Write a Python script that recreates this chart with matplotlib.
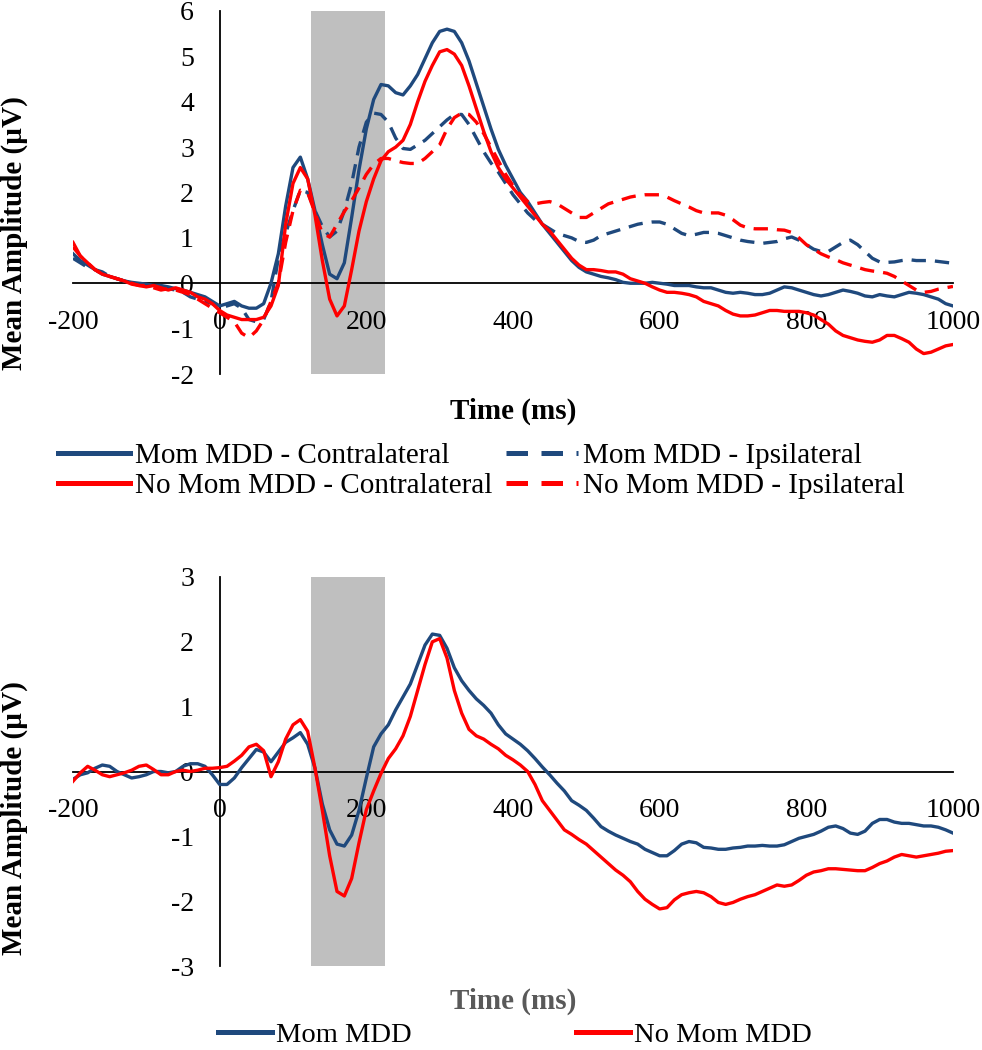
import numpy as np
import matplotlib
matplotlib.use("Agg")
import matplotlib.pyplot as plt

plt.rcParams['font.family'] = ['Liberation Serif', 'DejaVu Serif']
plt.rcParams['axes.unicode_minus'] = False

# ---------------- data ----------------
time_ms = np.arange(-200, 1001, 10)

top_mom_contra = [
    0.65, 0.5, 0.4, 0.3, 0.2, 0.15, 0.1, 0.05, 0.02, 0.0,
    -0.02, -0.05, -0.05, -0.08, -0.12, -0.15, -0.2, -0.25, -0.3, -0.4,
    -0.5, -0.45, -0.4, -0.5, -0.55, -0.55, -0.45, 0.0, 0.65, 1.7,
    2.55, 2.78, 2.3, 1.6, 0.85, 0.2, 0.1, 0.45, 1.45, 2.5,
    3.4, 4.05, 4.38, 4.35, 4.2, 4.15, 4.35, 4.6, 4.95, 5.3,
    5.55, 5.6, 5.55, 5.3, 4.9, 4.4, 3.9, 3.4, 2.95, 2.6,
    2.3, 2.0, 1.8, 1.55, 1.3, 1.1, 0.9, 0.7, 0.5, 0.35,
    0.25, 0.2, 0.15, 0.12, 0.08, 0.02, 0.0, 0.0, 0.0, 0.02,
    0.0, -0.02, -0.05, -0.05, -0.05, -0.08, -0.1, -0.1, -0.15, -0.2,
    -0.22, -0.2, -0.22, -0.25, -0.25, -0.22, -0.15, -0.08, -0.1, -0.15,
    -0.2, -0.25, -0.28, -0.25, -0.2, -0.15, -0.18, -0.22, -0.28, -0.3,
    -0.25, -0.28, -0.3, -0.25, -0.2, -0.22, -0.25, -0.3, -0.35, -0.45,
    -0.5]

top_nomom_contra = [
    0.9, 0.6, 0.45, 0.3, 0.2, 0.15, 0.1, 0.05, -0.02, -0.05,
    -0.08, -0.05, -0.1, -0.15, -0.1, -0.15, -0.2, -0.3, -0.35, -0.45,
    -0.6, -0.7, -0.75, -0.8, -0.8, -0.8, -0.75, -0.5, -0.05, 1.3,
    2.2, 2.55, 2.3, 1.5, 0.5, -0.35, -0.72, -0.5, 0.3, 1.15,
    1.8, 2.3, 2.7, 2.9, 3.0, 3.15, 3.5, 4.0, 4.45, 4.8,
    5.1, 5.15, 5.05, 4.8, 4.35, 3.85, 3.35, 2.9, 2.55, 2.3,
    2.1, 1.9, 1.7, 1.5, 1.3, 1.15, 0.95, 0.75, 0.55, 0.4,
    0.3, 0.3, 0.28, 0.25, 0.25, 0.2, 0.1, 0.05, 0.0, -0.08,
    -0.15, -0.2, -0.2, -0.22, -0.25, -0.3, -0.4, -0.45, -0.5, -0.6,
    -0.68, -0.72, -0.72, -0.7, -0.65, -0.6, -0.6, -0.62, -0.62, -0.62,
    -0.65, -0.7, -0.8, -0.9, -1.05, -1.15, -1.2, -1.25, -1.28, -1.3,
    -1.25, -1.15, -1.15, -1.22, -1.3, -1.45, -1.55, -1.52, -1.45, -1.38,
    -1.35]

top_mom_ipsi = [
    0.55, 0.45, 0.35, 0.3, 0.25, 0.15, 0.1, 0.05, 0.0, -0.02,
    -0.05, -0.05, -0.1, -0.12, -0.15, -0.2, -0.3, -0.35, -0.4, -0.45,
    -0.55, -0.5, -0.45, -0.55, -0.8, -0.85, -0.8, -0.4, 0.55, 1.1,
    1.6, 2.05, 2.0, 1.6, 1.25, 1.02, 1.15, 1.6, 2.2, 3.0,
    3.55, 3.75, 3.72, 3.55, 3.2, 2.97, 2.95, 3.05, 3.15, 3.3,
    3.45, 3.6, 3.72, 3.72, 3.5, 3.2, 2.9, 2.65, 2.45, 2.2,
    1.95, 1.75, 1.55, 1.4, 1.3, 1.2, 1.1, 1.05, 1.0, 0.92,
    0.9, 0.95, 1.05, 1.1, 1.15, 1.2, 1.25, 1.3, 1.33, 1.35,
    1.35, 1.3, 1.2, 1.1, 1.05, 1.08, 1.12, 1.12, 1.1, 1.05,
    1.0, 0.95, 0.92, 0.9, 0.88, 0.9, 0.92, 0.98, 1.02, 0.95,
    0.85, 0.75, 0.7, 0.7, 0.8, 0.9, 0.95, 0.85, 0.7, 0.55,
    0.47, 0.46, 0.47, 0.5, 0.52, 0.5, 0.5, 0.5, 0.48, 0.46,
    0.44]

top_nomom_ipsi = [
    0.8, 0.6, 0.45, 0.3, 0.2, 0.15, 0.1, 0.05, 0.0, -0.05,
    -0.05, -0.1, -0.15, -0.12, -0.15, -0.2, -0.25, -0.35, -0.45, -0.55,
    -0.65, -0.75, -0.85, -1.1, -1.2, -1.05, -0.8, -0.4, 0.0, 0.9,
    1.6, 2.05, 2.0, 1.55, 1.1, 1.02, 1.3, 1.58, 1.82, 2.1,
    2.4, 2.62, 2.75, 2.75, 2.7, 2.66, 2.64, 2.64, 2.75, 2.9,
    3.05, 3.4, 3.65, 3.75, 3.72, 3.55, 3.3, 3.0, 2.7, 2.4,
    2.15, 1.95, 1.8, 1.75, 1.78, 1.8, 1.75, 1.65, 1.55, 1.45,
    1.45, 1.55, 1.65, 1.75, 1.8, 1.85, 1.9, 1.93, 1.95, 1.95,
    1.95, 1.9, 1.82, 1.75, 1.68, 1.6, 1.55, 1.55, 1.55, 1.5,
    1.4, 1.28, 1.22, 1.2, 1.2, 1.2, 1.18, 1.17, 1.12, 1.0,
    0.85, 0.75, 0.65, 0.58, 0.52, 0.45, 0.4, 0.35, 0.3, 0.27,
    0.25, 0.22, 0.15, 0.05, -0.05, -0.15, -0.2, -0.18, -0.13, -0.1,
    -0.07]

bot_mom = [
    -0.12, -0.05, -0.02, 0.05, 0.1, 0.08, 0.0, -0.05, -0.1, -0.08,
    -0.05, 0.0, 0.0, -0.02, 0.0, 0.08, 0.12, 0.12, 0.08, -0.05,
    -0.2, -0.2, -0.1, 0.06, 0.2, 0.34, 0.3, 0.15, 0.3, 0.45,
    0.52, 0.6, 0.42, 0.05, -0.5, -0.9, -1.12, -1.15, -0.98, -0.6,
    -0.1, 0.38, 0.58, 0.72, 0.95, 1.15, 1.35, 1.65, 1.95, 2.12,
    2.1, 1.9, 1.6, 1.4, 1.25, 1.12, 1.02, 0.9, 0.72, 0.58,
    0.5, 0.42, 0.32, 0.2, 0.07, -0.05, -0.18, -0.3, -0.45, -0.52,
    -0.6, -0.72, -0.85, -0.92, -0.98, -1.03, -1.08, -1.12, -1.2, -1.25,
    -1.3, -1.3, -1.22, -1.12, -1.08, -1.1, -1.17, -1.18, -1.2, -1.2,
    -1.18, -1.17, -1.15, -1.15, -1.14, -1.15, -1.15, -1.13, -1.08, -1.03,
    -1.0, -0.97, -0.92, -0.86, -0.84, -0.88, -0.95, -0.97, -0.92, -0.8,
    -0.74, -0.74, -0.78, -0.8, -0.8, -0.82, -0.84, -0.84, -0.86, -0.9,
    -0.95]

bot_nomom = [
    -0.15, -0.02, 0.08, 0.02, -0.05, -0.08, -0.05, -0.02, 0.02, 0.08,
    0.1, 0.03, -0.05, -0.05, 0.0, 0.02, 0.0, 0.02, 0.05, 0.05,
    0.06, 0.08, 0.16, 0.25, 0.38, 0.42, 0.32, -0.08, 0.15, 0.5,
    0.72, 0.8, 0.62, 0.05, -0.6, -1.3, -1.85, -1.92, -1.65, -1.1,
    -0.59, -0.3, -0.03, 0.2, 0.35, 0.55, 0.85, 1.25, 1.65, 2.0,
    2.05, 1.75, 1.25, 0.9, 0.65, 0.55, 0.5, 0.42, 0.35, 0.25,
    0.18, 0.1, 0.0, -0.2, -0.45, -0.6, -0.75, -0.9, -0.97, -1.05,
    -1.12, -1.22, -1.32, -1.42, -1.52, -1.6, -1.7, -1.85, -1.97, -2.05,
    -2.12, -2.1, -1.98, -1.9, -1.87, -1.85, -1.87, -1.93, -2.02, -2.05,
    -2.02, -1.97, -1.93, -1.9, -1.85, -1.8, -1.75, -1.77, -1.75, -1.68,
    -1.6, -1.55, -1.53, -1.5, -1.5, -1.51, -1.52, -1.53, -1.53, -1.48,
    -1.42, -1.38, -1.32, -1.28, -1.3, -1.32, -1.3, -1.28, -1.26, -1.23,
    -1.22]

shade_window = (125, 225)
x_ticks = [-200, 0, 200, 400, 600, 800, 1000]
top_yticks = [-2, -1, 0, 1, 2, 3, 4, 5, 6]
bot_yticks = [-3, -2, -1, 0, 1, 2, 3]

top_labels = ["Mom MDD - Contralateral", "Mom MDD - Ipsilateral",
              "No Mom MDD - Contralateral", "No Mom MDD - Ipsilateral"]
bot_labels = ["Mom MDD", "No Mom MDD"]

NAVY = '#1F497D'
RED = '#FF0000'

W, H = 982, 1050
fig = plt.figure(figsize=(W / 100, H / 100), dpi=100)


def px_axes(x0, y0, x1, y1):
    return fig.add_axes([x0 / W, 1 - y1 / H, (x1 - x0) / W, (y1 - y0) / H])


def style(ax, yticks):
    ax.set_xlim(-200, 1000)
    ax.set_ylim(yticks[0], yticks[-1])
    for s in ('top', 'right'):
        ax.spines[s].set_visible(False)
    ax.spines['left'].set_position(('data', 0))
    ax.spines['bottom'].set_position(('data', 0))
    for s in ('left', 'bottom'):
        ax.spines[s].set_linewidth(1.3)
        ax.spines[s].set_color('black')
        ax.spines[s].set_zorder(2.5)
    ax.set_xticks(x_ticks)
    ax.set_yticks(yticks)
    ax.tick_params(axis='x', length=0, pad=19, labelsize=20)
    ax.tick_params(axis='y', length=0, pad=18.5, labelsize=20)
    ax.patch.set_visible(False)
    ax.axvspan(shade_window[0], shade_window[1], color='#BFBFBF', zorder=1, lw=0)


LW = 2.4
DASH = (0, (4.3, 2.7))
kw = dict(lw=LW, zorder=3, solid_joinstyle='round', dash_joinstyle='round')

ax1 = px_axes(73, 11, 953, 374)
style(ax1, top_yticks)
l1, = ax1.plot(time_ms, top_mom_contra, color=NAVY, **kw)
l2, = ax1.plot(time_ms, top_mom_ipsi, color=NAVY, ls=DASH, **kw)
l3, = ax1.plot(time_ms, top_nomom_contra, color=RED, **kw)
l4, = ax1.plot(time_ms, top_nomom_ipsi, color=RED, ls=DASH, **kw)

ax2 = px_axes(73, 577, 953, 966)
style(ax2, bot_yticks)
b1, = ax2.plot(time_ms, bot_mom, color=NAVY, **kw)
b2, = ax2.plot(time_ms, bot_nomom, color=RED, **kw)

# axis labels
fig.text(14 / W, 1 - 233 / H, 'Mean Amplitude (µV)', rotation=90, ha='center',
         va='center', fontsize=21, fontweight='bold')
fig.text(14 / W, 1 - 818 / H, 'Mean Amplitude (µV)', rotation=90, ha='center',
         va='center', fontsize=21, fontweight='bold')
fig.text(513 / W, 1 - 411 / H, 'Time (ms)', ha='center', va='center',
         fontsize=21, fontweight='bold')
fig.text(513 / W, 1 - 1001 / H, 'Time (ms)', ha='center', va='center',
         fontsize=21, fontweight='bold', color='#595959')

# legends
leg1 = fig.legend([l1, l3, l2, l4],
                  [top_labels[0], top_labels[2], top_labels[1], top_labels[3]],
                  ncol=2, loc='upper left', bbox_to_anchor=(58 / W, 1 - 443 / H),
                  frameon=False, borderpad=0, borderaxespad=0, fontsize=21,
                  handlelength=2.48, handletextpad=0.17, columnspacing=0.45,
                  labelspacing=0.1)
for h in leg1.get_lines():
    h.set_linewidth(3.6)

leg2 = fig.legend([b1, b2], bot_labels, ncol=2, loc='upper left',
                  bbox_to_anchor=(218 / W, 1 - 1022 / H), frameon=False,
                  borderpad=0, borderaxespad=0, fontsize=20.5, handlelength=1.9,
                  handletextpad=0.12, columnspacing=5.8)
for h in leg2.get_lines():
    h.set_linewidth(3.6)

fig.savefig('out.png', dpi=100)
